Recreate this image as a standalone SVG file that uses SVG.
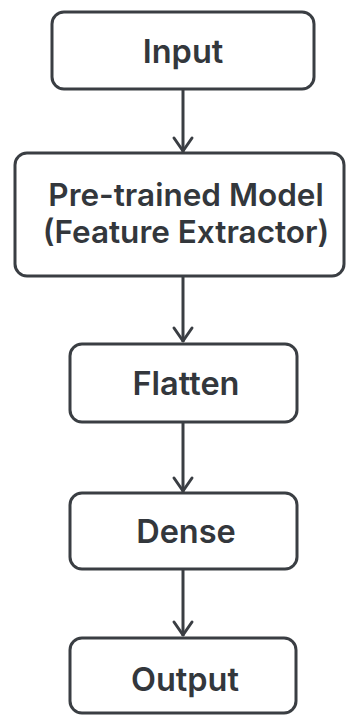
<svg xmlns="http://www.w3.org/2000/svg" width="346" height="715" viewBox="0 0 346 715">
<defs>
<style>
.box{fill:#fff;stroke:#3a3e43;stroke-width:3}
.lbl{font-family:Inter,"Open Sans","Liberation Sans",sans-serif;font-weight:600;font-size:32.5px;fill:#33373c;text-anchor:middle}
.two{font-size:31.5px}
.conn{stroke:#3a3e43;stroke-width:3;fill:none}
.head{stroke:#3a3e43;stroke-width:3;fill:none;stroke-linecap:round;stroke-linejoin:round}
</style>
</defs>
<rect width="346" height="715" fill="#fff"/>
<g id="connectors">
<line class="conn" x1="183" y1="90" x2="183" y2="152"/>
<polyline class="head" points="174,138 183,151 192,138"/>
<line class="conn" x1="183" y1="277" x2="183" y2="342"/>
<polyline class="head" points="174,328 183,341 192,328"/>
<line class="conn" x1="183" y1="422" x2="183" y2="492"/>
<polyline class="head" points="174,478 183,491 192,478"/>
<line class="conn" x1="183" y1="569" x2="183" y2="636"/>
<polyline class="head" points="174,622 183,635 192,622"/>
</g>
<g id="input">
<rect class="box" x="52" y="12" width="262" height="77" rx="12"/>
<text class="lbl" x="183" y="63">Input</text>
</g>
<g id="pretrained">
<rect class="box" x="15" y="153" width="329" height="123" rx="12"/>
<text class="lbl two" x="186" y="206">Pre-trained Model</text>
<text class="lbl two" x="186" y="243">(Feature Extractor)</text>
</g>
<g id="flatten">
<rect class="box" x="70" y="344" width="227" height="78" rx="12"/>
<text class="lbl" x="186" y="395">Flatten</text>
</g>
<g id="dense">
<rect class="box" x="70" y="493" width="227" height="76" rx="12"/>
<text class="lbl" x="186" y="543">Dense</text>
</g>
<g id="output">
<rect class="box" x="70" y="638" width="226" height="75" rx="12"/>
<text class="lbl" x="185" y="691">Output</text>
</g>
</svg>
